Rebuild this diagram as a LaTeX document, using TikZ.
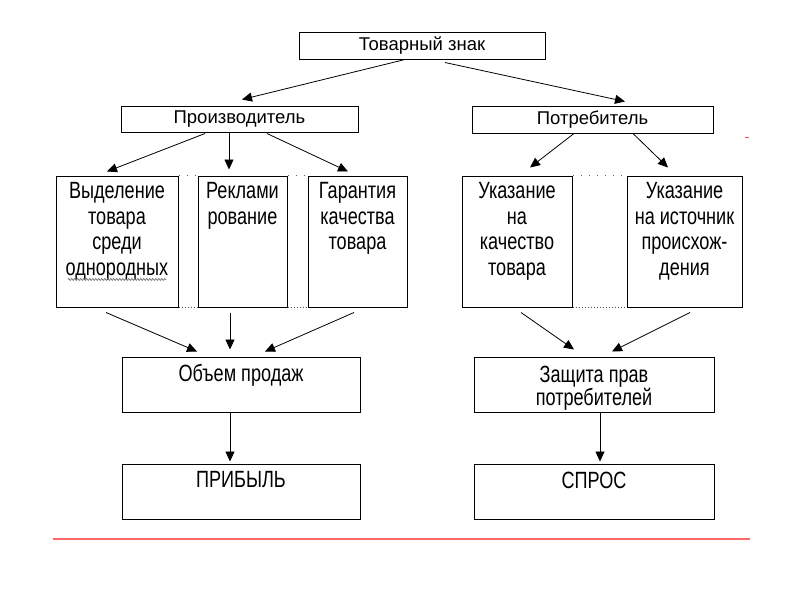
\documentclass[tikz,border=0pt]{standalone}
\usepackage{fontspec}
\setmainfont{Liberation Sans}
\newfontfamily\narrowf{Liberation Sans}[FakeStretch=0.77]
\usetikzlibrary{arrows.meta,calc,decorations.pathmorphing}
\begin{document}
\begin{tikzpicture}[x=1pt,y=-1pt,
 box/.style={draw=black, line width=1pt, inner sep=0pt},
 hdr/.style={box, font=\fontsize{18.5}{20}\selectfont},
 txt/.style={align=center, inner sep=0pt, anchor=north, font=\narrowf\fontsize{23.5}{25.5}\selectfont},
 arr/.style={line width=0.8pt, -{Triangle[length=10pt,width=9pt]}},
 dotsline/.style={dotted, line width=1pt, black!70},
 sparsedots/.style={line width=1pt, black!60, dash pattern=on 1pt off 7pt},
 squiggle/.style={black!55, line width=0.7pt, decorate, decoration={zigzag, amplitude=1pt, segment length=3pt}}]
\fill[white] (0,0) rectangle (800,600);
\useasboundingbox (0,0) rectangle (800,600);

% level 1 and 2
\node[hdr, minimum width=246pt, minimum height=27pt] (top) at (422,45.5) {Товарный знак};
\node[hdr, minimum width=237pt, minimum height=26pt] (prod) at (239.5,119) {Производитель};
\node[hdr, minimum width=241pt, minimum height=27pt] (potr) at (592.5,119.5) {Потребитель};

% level 3 boxes
\node[box, minimum width=122pt, minimum height=131pt] (b1) at (117,241.5) {};
\node[box, minimum width=89pt, minimum height=131pt] (b2) at (242.5,241.5) {};
\node[box, minimum width=99pt, minimum height=131pt] (b3) at (357.5,241.5) {};
\node[box, minimum width=110pt, minimum height=131pt] (b4) at (517,241.5) {};
\node[box, minimum width=115pt, minimum height=131pt] (b5) at (684.5,241.5) {};

\node[txt] (t1) at ($(b1.north)+(0,7)$) {Выделение\\товара\\среди\\однородных};
\node[txt] (t2) at ($(b2.north)+(0,7)$) {Реклами\\рование};
\node[txt] (t3) at ($(b3.north)+(0,7)$) {Гарантия\\качества\\товара};
\node[txt] (t4) at ($(b4.north)+(0,7)$) {Указание\\на\\качество\\товара};
\node[txt] (t5) at ($(b5.north)+(0,7)$) {Указание\\на источник\\происхож-\\дения};

% spell-check squiggle under the last line of t1
\coordinate (sqa) at ($(t1.south)+(-49,-1)$);
\coordinate (sqb) at ($(t1.south)+(49,-1)$);
\draw[squiggle] (sqa) -- (sqb);

% level 4 and 5
\node[box, minimum width=238pt, minimum height=55pt] (vol) at (241,384.5) {};
\node[box, minimum width=240pt, minimum height=55pt] (prot) at (594,384.5) {};
\node[box, minimum width=238pt, minimum height=55pt] (profit) at (241,491.5) {};
\node[box, minimum width=240pt, minimum height=55pt] (dem) at (594,491.5) {};

\node[txt] (t6) at ($(vol.north)+(0,8)$) {Объем продаж};
\node[txt, font=\narrowf\fontsize{23.5}{23}\selectfont] (t7) at ($(prot.north)+(0,9)$) {Защита прав\\потребителей};
\node[txt] (t8) at ($(profit.north)+(0,8)$) {ПРИБЫЛЬ};
\node[txt] (t9) at ($(dem.north)+(0,8)$) {СПРОС};

% dotted joins between boxes
\draw[sparsedots] (b1.north east) -- (b2.north west);
\draw[sparsedots] (b2.north east) -- (b3.north west);
\draw[sparsedots] (b4.north east) -- (b5.north west);
\draw[dotsline] (b1.south east) -- (b2.south west);
\draw[dotsline] (b2.south east) -- (b3.south west);
\draw[dotsline] (b4.south east) -- (b5.south west);

% arrows
\draw[arr] ($(top.south)+(-17,0)$) -- ($(prod.north)+(2.5,-6)$);
\draw[arr] ($(top.south)+(23,3)$) -- ($(potr.north)+(32.5,-4)$);
\draw[arr] ($(prod.south)+(-34.5,1)$) -- ($(b1.north)+(-10,-4)$);
\draw[arr] ($(prod.south)+(-10.5,0)$) -- ($(b2.north)+(-13.5,-6)$);
\draw[arr] ($(prod.south)+(27.5,1)$) -- ($(b3.north)+(-9.5,-4)$);
\draw[arr] ($(potr.south)+(-18.5,0)$) -- ($(b4.north)+(13,-8)$);
\draw[arr] ($(potr.south)+(40.5,0)$) -- ($(b5.north)+(-16.5,-8)$);
\draw[arr] ($(b1.south)+(-11,5)$) -- ($(vol.north)+(-44,-5)$);
\draw[arr] ($(b2.south)+(-12.5,5)$) -- ($(vol.north)+(-11,-7)$);
\draw[arr] ($(b3.south)+(-3.5,5)$) -- ($(vol.north)+(24,-5)$);
\draw[arr] ($(b4.south)+(4,5)$) -- ($(prot.north)+(-20,-7)$);
\draw[arr] ($(b5.south)+(5.5,5)$) -- ($(prot.north)+(18,-5)$);
\draw[arr] ($(vol.south)+(-11,0)$) -- ($(profit.north)+(-11,-2)$);
\draw[arr] ($(prot.south)+(6,0)$) -- ($(dem.north)+(6,-2)$);

% red rule and mark
\coordinate (rl) at (53,539);
\coordinate (rr) at (750,539);
\draw[line width=1.2pt, red!60!white] (rl) -- (rr);
\coordinate (ml) at (745,137);
\coordinate (mr) at (749,137);
\draw[line width=1pt, red!70!white] (ml) -- (mr);
\end{tikzpicture}
\end{document}
